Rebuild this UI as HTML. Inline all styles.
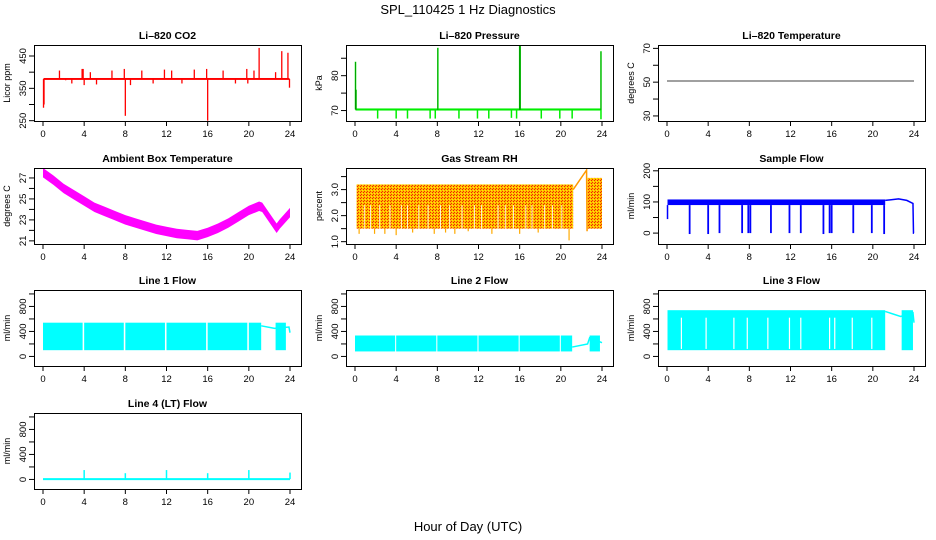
<!DOCTYPE html>
<html><head><meta charset="utf-8">
<style>
html,body{margin:0;padding:0;background:#fff;}
svg{display:block;font-family:"Liberation Sans",sans-serif;}
</style></head>
<body>
<svg id="chart" width="936" height="540" viewBox="0 0 936 540">
<defs>
<pattern id="rhpat" width="3" height="3" patternUnits="userSpaceOnUse">
<rect width="3" height="3" fill="#ffb800"/><rect width="1" height="1" fill="#ee2200"/><rect x="2" y="1" width="1" height="1" fill="#ffee00"/><rect x="1" y="2" width="1" height="1" fill="#ee3300"/>
</pattern>
</defs>
<text x="468" y="14" text-anchor="middle" font-size="13">SPL_110425  1 Hz Diagnostics</text>
<text x="468" y="531" text-anchor="middle" font-size="13">Hour of Day (UTC)</text>
</svg>
<script>
// ---- data ----
const hourTicks = [0,4,8,12,16,20,24];
const co2Base = 379;
const co2SpikeHours = [0.05,0.1,1.6,2.2,2.8,3.8,3.9,4.0,4.6,5.2,6.7,7.9,8.0,8.5,9.6,10.7,11.8,12.5,13.5,14.7,15.9,16.0,17.5,18.7,19.8,19.9,20.5,21.0,22.6,23.2,23.8,23.95];
const co2SpikeValues = [290,300,405,375,365,410,410,360,400,362,405,410,265,360,405,365,408,405,365,408,410,250,405,365,410,365,405,475,400,465,460,352];
const presBase = 70.3;
const presDipHours = [2.2,4,5.1,7.3,7.8,10.1,11.9,13,15.2,15.7,18.1,19.9,21.1,23.9];
const presDipValues = [67.7,67.7,67.7,67.7,67.7,67.7,67.7,67.7,67.9,67.7,67.7,67.7,67.7,67.5];
const presSpikeHours = [0.05,0.1,8.05,16.0,16.05,23.9];
const presSpikeValues = [84,76,88,88.5,88.5,87];
const licorTemp = 50.7;
const ambHours = [0,1,2,3,4,5,6,7,8,9,10,11,12,13,14,15,16,17,18,19,20,21,21.3,22.7,23,24];
const ambValues = [27.5,26.8,26.0,25.4,24.8,24.2,23.8,23.4,23.0,22.7,22.4,22.1,21.9,21.7,21.6,21.5,21.8,22.2,22.7,23.3,23.9,24.3,24.2,22.2,22.6,23.7];
const rhBandStart = [0.15,22.6];
const rhBandEnd = [21.2,24];
const rhBandLow = [1.5,1.5];
const rhBandHigh = [3.2,3.45];
const rhDipHours = [0.4,1.9,2.9,4.0,5.6,7.7,8.8,9.7,11.0,13.3,16.0,17.8,20.8];
const rhDipValues = [1.3,1.3,1.3,1.25,1.35,1.3,1.35,1.3,1.4,1.3,1.3,1.35,1.05];
const rhGapHours = [0.9,1.5,2.4,3.4,4.5,5.1,6.2,7.1,8.3,9.2,10.4,11.6,12.3,13.9,14.6,15.4,16.6,17.2,18.4,19.2,20.1];
const rhRiseHours = [21.2,22.5,22.55];
const rhRiseValues = [3.0,3.75,1.4];
const sfBandLow = 90, sfBandHigh = 108;
const sfDipHours = [2.2,4,5.1,7.3,7.9,8.1,10.1,11.9,13,15.2,15.8,16,18.1,19.9,21.1];
const sfDipValues = [-3,-3,0,0,0,0,0,0,0,-3,0,0,0,0,-3];
const sfTailHours = [21.2,22.5,23.3,23.9,23.95,24];
const sfTailValues = [105,110,105,95,0,0];
const l1Starts = [0,4.0,8.0,12.0,16.0,20.0,22.6];
const l1Ends = [3.85,7.85,11.85,15.85,19.85,21.2,23.6];
const l1Low = 100, l1High = 540;
const l1TailHours = [21.2,22.5,23.9,24];
const l1TailValues = [490,450,470,380];
const l2Starts = [0,4.0,8.0,12.0,16.0,20.0,22.8];
const l2Ends = [3.9,7.9,11.9,15.9,19.9,21.1,23.8];
const l2Low = 80, l2High = 335;
const l2TailHours = [21.1,22.6,22.8,24];
const l2TailValues = [150,200,300,220];
const l3Starts = [0.05,22.8];
const l3Ends = [21.2,23.9];
const l3Low = 100, l3High = 740;
const l3GapHours = [1.4,3.8,6.5,7.8,9.8,11.9,13.0,15.8,16.3,18.0,19.9];
const l3TailHours = [21.2,22.7,23.9,24];
const l3TailValues = [720,640,700,540];
const l4Base = 5;
const l4SpikeHours = [4,8,12,16,20,24];
const l4SpikeValues = [150,100,150,100,150,110];

// ---- drawing ----
const svg = document.getElementById('chart');
const NS = 'http://www.w3.org/2000/svg';
function mk(tag, attrs, parent){
  const e = document.createElementNS(NS, tag);
  for (const k in attrs) e.setAttribute(k, attrs[k]);
  (parent||svg).appendChild(e);
  return e;
}
const colX = [34,346,658], rowY = [45,168,290,413];
const W = 267, H = 76;
function panel(col,row,title,ylab,ymin,ymax,ticks,labels){
  const L = colX[col], T = rowY[row];
  const g = mk('g',{});
  
  
  const xs = h => L + 9 + h*(247/24);
  const ys = v => T + H - (v - ymin)/(ymax - ymin)*H;
  const t = mk('text',{x:L+W/2,y:T-6,'text-anchor':'middle','font-size':'10.5','font-weight':'bold'},g);
  t.textContent = title;
  
  
  const yl = mk('text',{transform:`translate(${L-24},${T+H/2}) rotate(-90)`,'text-anchor':'middle','font-size':'9'},g);
  yl.textContent = ylab;
  
  
  hourTicks.forEach(h=>{
    mk('line',{x1:xs(h),x2:xs(h),y1:T+H,y2:T+H+5,stroke:'#000','stroke-width':1},g);
    const tl = mk('text',{x:xs(h),y:T+H+16,'text-anchor':'middle','font-size':'9.5'},g);
    tl.textContent = h;
    
    
  });
  ticks.forEach(v=>{
    mk('line',{x1:L-5,x2:L,y1:ys(v),y2:ys(v),stroke:'#000','stroke-width':1},g);
  });
  labels.forEach(v=>{
    const tl = mk('text',{transform:`translate(${L-8},${ys(v)}) rotate(-90)`,'text-anchor':'middle','font-size':'9.5'},g);
    tl.textContent = v;
    
    
  });
  const plot = mk('g',{},g);
  
  
  const box = mk('rect',{x:L+0.5,y:T+0.5,width:W,height:H,fill:'none',stroke:'#000','stroke-width':1},g);
  
  
  return {xs,ys,g:plot};
}
function vline(p,h,v1,v2,color,w){
  const e = mk('line',{x1:p.xs(h),x2:p.xs(h),y1:p.ys(v1),y2:p.ys(v2),stroke:color,'stroke-width':w||1.3},p.g);
  
  
}
function band(p,h1,h2,lo,hi,fill,name){
  const e = mk('rect',{x:p.xs(h1),y:p.ys(hi),width:p.xs(h2)-p.xs(h1),height:p.ys(lo)-p.ys(hi),fill:fill},p.g);
  
  
}
function poly(p,hs,vs,color,w){
  const e = mk('polyline',{points:hs.map((h,i)=>p.xs(h)+','+p.ys(vs[i])).join(' '),fill:'none',stroke:color,'stroke-width':w||1.3},p.g);
  
  
}

// CO2
let p = panel(0,0,'Li\u2013820 CO2','Licor ppm',249,484,[250,300,350,400,450],[250,350,450]);
co2SpikeHours.forEach((h,i)=>vline(p,h,co2Base,co2SpikeValues[i],'#ff0000',1.3));
band(p,0.05,23.95,co2Base-3,co2Base+3,'#ff0000','co2-band');

// Pressure
p = panel(1,0,'Li\u2013820 Pressure','kPa',67,88.8,[70,75,80,85],[70,80]);
band(p,0.05,23.9,presBase-0.3,presBase+0.3,'#00ee00','pressure-band');
presDipHours.forEach((h,i)=>vline(p,h,presBase,presDipValues[i],'#00ee00',1.5));
presSpikeHours.forEach((h,i)=>vline(p,h,presBase,presSpikeValues[i],'#00ee00',1.5));
presSpikeHours.forEach((h,i)=>{
  const e = mk('line',{x1:p.xs(h),x2:p.xs(h),y1:p.ys(presBase),y2:p.ys(presSpikeValues[i]),stroke:'#000','stroke-width':0.6,'stroke-dasharray':'1,1'},p.g);
  
  
});

// Temperature
p = panel(2,0,'Li\u2013820 Temperature','degrees C',27,72,[30,40,50,60,70],[30,50,70]);
poly(p,[0,24],[licorTemp,licorTemp],'#000',0.8);

// Ambient
p = panel(0,1,'Ambient Box Temperature','degrees C',20.7,27.95,[21,22,23,24,25,26,27],[21,23,25,27]);
{
  const up = ambHours.map((h,i)=>p.xs(h)+','+p.ys(ambValues[i]+0.45));
  const dn = ambHours.map((h,i)=>p.xs(h)+','+p.ys(ambValues[i]-0.45)).reverse();
  const e = mk('polygon',{points:up.concat(dn).join(' '),fill:'#ff00ff'},p.g);
  
  
}

// RH
p = panel(1,1,'Gas Stream RH','percent',0.91,3.83,[1,1.5,2,2.5,3,3.5],['1.0','2.0','3.0']);
rhBandStart.forEach((s,i)=>band(p,s,rhBandEnd[i],rhBandLow[i],rhBandHigh[i],'url(#rhpat)','rh-band'));
rhGapHours.forEach(h=>vline(p,h,rhBandLow[0],2.4,'#ffffff',0.8));
rhDipHours.forEach((h,i)=>vline(p,h,rhBandLow[0],rhDipValues[i],'#ffaa00',1.2));
poly(p,rhRiseHours,rhRiseValues,'#ff9900',1.5);

// Sample flow
p = panel(2,1,'Sample Flow','ml/min',-35,209,[0,50,100,150,200],[0,100,200]);
band(p,0.05,21.2,sfBandLow,sfBandHigh,'#0000ff','sample-flow-band');
vline(p,0.05,sfBandLow,45,'#0000ff',1.5);
sfDipHours.forEach((h,i)=>vline(p,h,sfBandLow,sfDipValues[i],'#0000ff',1.8));
poly(p,sfTailHours,sfTailValues,'#0000ff',1.5);

// Line 1
p = panel(0,2,'Line 1 Flow','ml/min',-153,1063,[0,200,400,600,800,1000],[0,400,800]);
l1Starts.forEach((s,i)=>band(p,s,l1Ends[i],l1Low,l1High,'#00ffff','line1-band'));
poly(p,l1TailHours,l1TailValues,'#00ffff',1.5);

// Line 2
p = panel(1,2,'Line 2 Flow','ml/min',-153,1063,[0,200,400,600,800,1000],[0,400,800]);
l2Starts.forEach((s,i)=>band(p,s,l2Ends[i],l2Low,l2High,'#00ffff','line2-band'));
poly(p,l2TailHours,l2TailValues,'#00ffff',1.5);

// Line 3
p = panel(2,2,'Line 3 Flow','ml/min',-153,1063,[0,200,400,600,800,1000],[0,400,800]);
l3Starts.forEach((s,i)=>band(p,s,l3Ends[i],l3Low,l3High,'#00ffff','line3-band'));
l3GapHours.forEach(h=>vline(p,h,l3Low+20,l3High-120,'#ffffff',1.2));
poly(p,l3TailHours,l3TailValues,'#00ffff',1.5);

// Line 4
p = panel(0,3,'Line 4 (LT) Flow','ml/min',-153,1063,[0,200,400,600,800,1000],[0,400,800]);
poly(p,[0,24],[l4Base,l4Base],'#00ffff',2);
l4SpikeHours.forEach((h,i)=>vline(p,h,l4Base,l4SpikeValues[i],'#00ffff',1.5));
</script>
</body></html>
